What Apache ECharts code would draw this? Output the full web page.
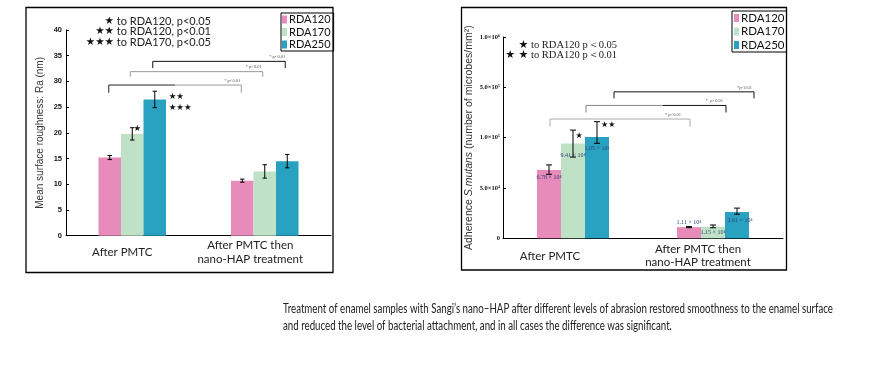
<!DOCTYPE html>
<html><head><meta charset="utf-8">
<script src="https://cdn.jsdelivr.net/npm/echarts@6/dist/echarts.min.js"></script>
<style>html,body{margin:0;padding:0;background:#fff}#c{width:879px;height:368px}</style>
</head><body><div id="c"></div>
<script>
// ---------- data ----------
const categories = ['After PMTC', 'After PMTC then\nnano-HAP treatment'];
const seriesNames = ['RDA120', 'RDA170', 'RDA250'];

// Left chart: mean surface roughness Ra (nm)
const roughRDA120 = [15.2, 10.7];
const roughRDA170 = [19.8, 12.5];
const roughRDA250 = [26.5, 14.5];
const roughErr120 = [0.4, 0.3];
const roughErr170 = [1.2, 1.3];
const roughErr250 = [1.6, 1.3];
const roughTickMax = 40;
const roughTickStep = 5;
const roughBracketSeries = [2, 1, 0];           // RDA250, RDA170, RDA120
const roughBracketLevel = [33.9, 31.9, 29.3];
const roughBracketLeg = [32.6, 30.9, 27.8];
const roughBracketText = ['* p<0.01', '* p<0.01', '* p<0.01'];
const roughSigLines = ['★ to RDA120, p<0.05', '★★ to RDA120, p<0.01', '★★★ to RDA170, p<0.05'];

// Right chart: adherence of S.mutans (microbes/mm²), broken axis
const adhTickValues = [0, 50000, 100000, 500000, 1000000];
const adhTickLabels = ['0', '5.0×10⁴', '1.0×10⁵', '5.0×10⁵', '1.0×10⁶'];
const adhRDA120 = [67800, 11100];
const adhRDA170 = [94100, 11500];
const adhRDA250 = [105000, 26100];
const adhLow120 = [63600, 10600];
const adhHigh120 = [72900, 11600];
const adhLow170 = [80700, 10500];
const adhHigh170 = [160000, 13200];
const adhLow250 = [94400, 23900];
const adhHigh250 = [227000, 30000];
const adhText120 = ['6.78 × 10⁴', '1.11 × 10⁴'];
const adhText170 = ['9.41 × 10⁴', '1.15 × 10⁴'];
const adhText250 = ['1.05 × 10⁵', '2.61 × 10⁴'];
const adhBracketSeries = [2, 1, 0];
const adhBracketLevel = [464000, 356000, 248000];
const adhBracketLeg = [412000, 300000, 188000];
const adhBracketText = ['*p<0.01', '*  p<0.01', '* p<0.01'];
const adhSigLines = ['★ to RDA120 p＜0.05', '★★ to RDA120 p＜0.01'];

const captionLines = [
  'Treatment of enamel samples with Sangi\u2019s nano\u2013HAP after different levels of abrasion restored smoothness to the enamel surface',
  'and reduced the level of bacterial attachment, and in all cases the difference was significant.'
];

// ---------- styling ----------
const colors = ['#e78cba', '#bfe2c6', '#28a2c0'];
const LBW = 22.5, RBW = 24;

function toDisp(v) {
  for (let i = 1; i < adhTickValues.length; i++) {
    if (v <= adhTickValues[i]) return (i - 1) + (v - adhTickValues[i - 1]) / (adhTickValues[i] - adhTickValues[i - 1]);
  }
  return adhTickValues.length - 1;
}

const chart = echarts.init(document.getElementById('c'), null, {renderer: 'canvas'});

function errRender(bw, cap) {
  return function (params, api) {
    const s = api.value(3);
    const lo = api.coord([api.value(0), api.value(1)]);
    const hi = api.coord([api.value(0), api.value(2)]);
    const x = lo[0] + (s - 1) * bw;
    const st = {stroke: '#000', lineWidth: 1};
    return {type: 'group', children: [
      {type: 'line', shape: {x1: x, y1: lo[1], x2: x, y2: hi[1]}, style: st},
      {type: 'line', shape: {x1: x - cap, y1: lo[1], x2: x + cap, y2: lo[1]}, style: st},
      {type: 'line', shape: {x1: x - cap, y1: hi[1], x2: x + cap, y2: hi[1]}, style: st}
    ]};
  };
}

function bracketRender(bw, styles, texts) {
  return function (params, api) {
    const i = params.dataIndex;
    const st = styles[i];
    const s = api.value(2);
    const p1 = api.coord([api.value(0), api.value(3)]);
    const p2 = api.coord([api.value(1), api.value(3)]);
    const l1 = api.coord([api.value(0), api.value(4)]);
    const x1 = p1[0] + (s - 1) * bw + st.dx, x2 = p2[0] + (s - 1) * bw + st.dx;
    const y = p1[1], yl = l1[1];
    const xs = x1 + (x2 - x1) * st.split;
    return {type: 'group', children: [
      {type: 'line', shape: {x1: x1, y1: y, x2: xs, y2: y}, style: {stroke: st.c1, lineWidth: 1}},
      {type: 'line', shape: {x1: xs, y1: y, x2: x2, y2: y}, style: {stroke: st.c2, lineWidth: 1}},
      {type: 'line', shape: {x1: x1, y1: y, x2: x1, y2: yl}, style: {stroke: st.c1, lineWidth: 1}},
      {type: 'line', shape: {x1: x2, y1: y, x2: x2, y2: yl}, style: {stroke: st.c2, lineWidth: 1}},
      {type: 'text', x: x2 - st.tdx, y: y - 2, style: {text: texts[i], fill: '#555', fontSize: 4.5,
        fontFamily: 'Liberation Serif', align: 'right', verticalAlign: 'bottom'}}
    ]};
  };
}

const roughVals = [roughRDA120, roughRDA170, roughRDA250];
const roughErrs = [roughErr120, roughErr170, roughErr250];
const adhVals = [adhRDA120, adhRDA170, adhRDA250];
const adhLows = [adhLow120, adhLow170, adhLow250];
const adhHighs = [adhHigh120, adhHigh170, adhHigh250];
const adhTexts = [adhText120, adhText170, adhText250];

// star annotations (styling)
const roughStarLabels = {
  '1-0': {text: '★', position: [LBW / 2 + 5, -11], align: 'center'},
  '2-0': {text: '★★\n★★★', position: [LBW / 2 + 14, -8], align: 'left'}
};
const adhStarLabels = {
  '1-0': {text: '★', position: [RBW / 2 + 6, -12], align: 'center'},
  '2-0': {text: '★★', position: [RBW / 2 + 4, -16], align: 'left'}
};
const adhLabelPos = [
  [{position: 'insideTop', distance: 4}, {position: 'top', distance: 2}],
  [{position: 'insideTop', distance: 9}, {position: 'insideTop', distance: 3}],
  [{position: 'insideTop', distance: 8}, {position: 'insideTop', distance: 5.5, offset: [3, 0]}]
];

const series = [];
seriesNames.forEach((name, s) => {
  series.push({
    name: name, type: 'bar', xAxisIndex: 0, yAxisIndex: 0, barWidth: LBW, barGap: '0%',
    itemStyle: {color: colors[s]},
    data: roughVals[s].map((v, c) => {
      const st = roughStarLabels[s + '-' + c];
      const item = {value: v};
      if (st) item.label = {show: true, formatter: st.text, position: st.position, align: st.align,
        verticalAlign: 'top', fontFamily: 'DejaVu Sans', fontSize: 8.5, lineHeight: 11, color: '#111'};
      return item;
    })
  });
});
seriesNames.forEach((name, s) => {
  series.push({
    name: name, type: 'bar', xAxisIndex: 1, yAxisIndex: 1, barWidth: RBW, barGap: '0%',
    itemStyle: {color: colors[s]},
    label: {show: true, fontFamily: 'Liberation Serif', fontSize: 6, color: '#2e3f72'},
    data: adhVals[s].map((v, c) => {
      const p = adhLabelPos[s][c];
      return {value: toDisp(v), label: Object.assign({show: true, formatter: adhTexts[s][c]}, p)};
    })
  });
});

series.push({
  type: 'custom', xAxisIndex: 0, yAxisIndex: 0, z: 5, renderItem: errRender(LBW, 2.2),
  data: roughVals.flatMap((arr, s) => arr.map((v, c) => [c, v - roughErrs[s][c], v + roughErrs[s][c], s])),
  encode: {x: 0, y: [1, 2]}
});
series.push({
  type: 'custom', xAxisIndex: 1, yAxisIndex: 1, z: 5, renderItem: errRender(RBW, 3),
  data: adhVals.flatMap((arr, s) => arr.map((v, c) => [c, toDisp(adhLows[s][c]), toDisp(adhHighs[s][c]), s])),
  encode: {x: 0, y: [1, 2]}
});
series.push({
  type: 'custom', xAxisIndex: 0, yAxisIndex: 0, z: 6,
  renderItem: bracketRender(LBW, [
    {dx: -2, split: 0, c1: '#111', c2: '#111', tdx: 0},
    {dx: -2, split: 0, c1: '#999', c2: '#999', tdx: 1},
    {dx: -1, split: 0.5, c1: '#222', c2: '#999', tdx: 1}
  ], roughBracketText),
  data: roughBracketSeries.map((s, i) => [0, 1, s, roughBracketLevel[i], roughBracketLeg[i]]),
  encode: {x: [0, 1], y: [3, 4]}
});
series.push({
  type: 'custom', xAxisIndex: 1, yAxisIndex: 1, z: 6,
  renderItem: bracketRender(RBW, [
    {dx: 17, split: 0, c1: '#111', c2: '#111', tdx: 2},
    {dx: 13, split: 0.55, c1: '#888', c2: '#111', tdx: 3},
    {dx: 1, split: 0, c1: '#aaa', c2: '#aaa', tdx: 9}
  ], adhBracketText),
  data: adhBracketSeries.map((s, i) => [0, 1, s, toDisp(adhBracketLevel[i]), toDisp(adhBracketLeg[i])]),
  encode: {x: [0, 1], y: [3, 4]}
});
// right chart significance stars
series.push({
  type: 'custom', xAxisIndex: 1, yAxisIndex: 1, z: 7,
  renderItem: function (params, api) {
    const key = api.value(1) + '-' + api.value(0);
    const st = adhStarLabels[key];
    const top = api.coord([api.value(0), api.value(2)]);
    const x = top[0] + (api.value(1) - 1) * RBW - RBW / 2;
    return {type: 'text', x: x + st.position[0], y: top[1] + st.position[1],
      style: {text: st.text, fontFamily: 'DejaVu Sans', fontSize: 8, fill: '#111', align: st.align, verticalAlign: 'top'}};
  },
  data: [[0, 1, toDisp(adhRDA170[0])], [0, 2, toDisp(adhRDA250[0])]],
  encode: {x: 0, y: 2}
});

function xAxisCfg(gi, rich) {
  return {
    type: 'category', gridIndex: gi, data: categories,
    axisLine: {lineStyle: {color: '#000', width: 1}},
    axisTick: {inside: true, length: 4, lineStyle: {color: '#000'}},
    axisLabel: {
      margin: gi === 0 ? 16.5 : 17.5, verticalAlign: 'middle', interval: 0,
      formatter: (v, i) => v.split('\n').map(l => '{' + (i === 0 ? 'a' : 'b') + '|' + l + '}').join('\n'),
      rich: rich
    }
  };
}
const labRich = {fontFamily: 'Lato', fontSize: 11.5, color: '#222', lineHeight: 13.5};
const legendText = {fontFamily: 'Lato', fontSize: 11, color: '#111', lineHeight: 10, padding: [0, 0, 0, -3]};

const option = {
  animation: false,
  backgroundColor: '#fff',
  grid: [
    {left: 66, top: 30, width: 265, height: 205.7},
    {left: 503, top: 37, width: 280, height: 201.3}
  ],
  xAxis: [
    xAxisCfg(0, {a: Object.assign({padding: [0, 20, 0, 0]}, labRich), b: Object.assign({padding: [0, 29, 0, 0]}, labRich)}),
    xAxisCfg(1, {a: Object.assign({padding: [0, 46, 0, 0]}, labRich), b: Object.assign({padding: [0, 30, 0, 0]}, labRich)})
  ],
  yAxis: [
    {type: 'value', gridIndex: 0, min: 0, max: roughTickMax, interval: roughTickStep,
      name: 'Mean surface roughness: Ra (nm)', nameLocation: 'middle', nameGap: 21,
      nameTextStyle: {fontFamily: 'Liberation Sans', fontSize: 10, color: '#333'},
      axisLine: {show: true, lineStyle: {color: '#000'}},
      axisTick: {show: true, inside: true, length: 3, lineStyle: {color: '#000'}},
      splitLine: {show: false},
      axisLabel: {fontFamily: 'Liberation Sans', fontWeight: 'bold', fontSize: 7.5, color: '#111', margin: 4}},
    {type: 'value', gridIndex: 1, min: 0, max: adhTickValues.length - 1, interval: 1,
      name: '{n|Adherence }{i|S.mutans}{n| (number of microbes/mm²)}', nameLocation: 'middle', nameGap: 28,
      nameTextStyle: {rich: {
        n: {fontFamily: 'Liberation Sans', fontSize: 10.5, color: '#333'},
        i: {fontFamily: 'Liberation Sans', fontSize: 10.5, color: '#333', fontStyle: 'italic'}}},
      axisLine: {show: true, lineStyle: {color: '#000'}},
      axisTick: {show: true, inside: true, length: 3, lineStyle: {color: '#000'}},
      splitLine: {show: false},
      axisLabel: {fontFamily: 'Liberation Serif', fontWeight: 'bold', fontSize: 6.5, color: '#111', margin: 3,
        formatter: v => adhTickLabels[Math.round(v)]}}
  ],
  legend: [
    {left: 281, top: 13, orient: 'vertical', data: seriesNames, itemWidth: 5, itemHeight: 8, itemGap: 1.5,
      icon: 'rect', borderColor: '#000', borderWidth: 1, padding: [1, 3, 1, 1], selectedMode: false,
      textStyle: legendText},
    {left: 732, top: 11, orient: 'vertical', data: seriesNames, itemWidth: 5, itemHeight: 8, itemGap: 1.5,
      icon: 'rect', borderColor: '#000', borderWidth: 1, padding: [1, 2, 1, 2], selectedMode: false,
      textStyle: Object.assign({}, legendText, {fontSize: 11.5})}
  ],
  series: series,
  graphic: []
};

// boxes, significance notes, caption
const g = [];
g.push({type: 'rect', shape: {x: 26, y: 7.5, width: 307, height: 265}, style: {fill: 'none', stroke: '#000', lineWidth: 1.3}, silent: true});
g.push({type: 'rect', shape: {x: 461.5, y: 7.5, width: 325, height: 262.5}, style: {fill: 'none', stroke: '#000', lineWidth: 1.3}, silent: true});
roughSigLines.forEach((t, i) => {
  const m = t.match(/^(★+)(.*)$/);
  g.push({type: 'text', x: 211, y: 21 + i * 10.7, silent: true, style: {
    text: '{s|' + m[1] + '}{t|' + m[2] + '}', align: 'right', verticalAlign: 'middle',
    rich: {s: {fontFamily: 'DejaVu Sans', fontSize: 10.5, fill: '#111'}, t: {fontFamily: 'Lato', fontSize: 11, fill: '#222'}}}});
});
adhSigLines.forEach((t, i) => {
  const m = t.match(/^(★+)(.*)$/);
  g.push({type: 'text', x: 617, y: 45 + i * 10, silent: true, style: {
    text: '{s|' + m[1].split('').join(' ') + '}{t|' + m[2] + '}', align: 'right', verticalAlign: 'middle',
    rich: {s: {fontFamily: 'DejaVu Sans', fontSize: 11, fill: '#111'}, t: {fontFamily: 'Liberation Serif', fontSize: 10.5, fill: '#222'}}}});
});
const cv = document.createElement('canvas').getContext('2d');
cv.font = '12.5px Lato';
const capScale = 550 / cv.measureText(captionLines[0]).width;
captionLines.forEach((t, i) => {
  g.push({type: 'text', x: 283, y: 309 + i * 16.8, scaleX: capScale, silent: true,
    style: {text: t, fontFamily: 'Lato', fontSize: 12.5, fill: '#222', align: 'left', verticalAlign: 'middle'}});
});
option.graphic = g;

chart.setOption(option);
</script>
</body></html>
